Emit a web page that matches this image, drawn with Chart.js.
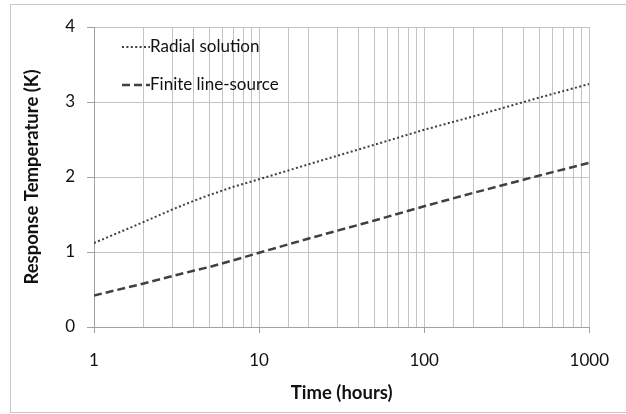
<!DOCTYPE html>
<html>
<head>
<meta charset="utf-8">
<script src="https://cdn.jsdelivr.net/npm/chart.js@4/dist/chart.umd.min.js"></script>
<style>
  html, body { margin: 0; padding: 0; background: #fff; }
  #wrap { width: 626px; height: 414px; }
</style>
</head>
<body>
<div id="wrap"><canvas id="c" width="626" height="414"></canvas></div>
<script>
// values
const times = [1, 2, 3, 4, 5, 7, 10, 20, 50, 100, 200, 500, 1000];
const radial = [1.12, 1.40, 1.57, 1.68, 1.76, 1.87, 1.97, 2.17, 2.43, 2.63, 2.81, 3.06, 3.24];
const lineSource = [0.42, 0.58, 0.68, 0.75, 0.80, 0.89, 0.99, 1.18, 1.42, 1.61, 1.79, 2.02, 2.19];
const xLabels = [1, 10, 100, 1000];
const seriesNames = ['Radial solution', 'Finite line-source'];

const FONT = 'Lato, "Open Sans", sans-serif';
const GRID = '#c4c4c4';
const LINE = '#404040';

function pts(ys) { return times.map((t, i) => ({ x: t, y: ys[i] })); }

// white frame with thin grey border like the spreadsheet chart box
const frame = {
  id: 'frame',
  beforeDraw(chart) {
    const c = chart.ctx;
    c.save();
    c.fillStyle = '#fff';
    c.fillRect(0, 0, chart.width, chart.height);
    c.strokeStyle = '#c8c8c8';
    c.lineWidth = 1;
    c.strokeRect(10.5, 4.5, 620, 408);
    c.restore();
  }
};

// legend drawn inside the plot, top-left
const innerLegend = {
  id: 'innerLegend',
  afterDatasetsDraw(chart) {
    const c = chart.ctx;
    const a = chart.chartArea;
    c.save();
    c.font = '17px ' + FONT;
    c.textBaseline = 'middle';
    chart.data.datasets.forEach((ds, i) => {
      const y = a.top + 20 + i * 38;
      const x0 = a.left + 28;
      c.strokeStyle = ds.borderColor;
      c.lineWidth = ds.borderWidth;
      c.setLineDash(ds.borderDash);
      c.beginPath();
      c.moveTo(x0, y);
      c.lineTo(x0 + 28, y);
      c.stroke();
      c.setLineDash([]);
      c.fillStyle = '#111';
      c.fillText(ds.label, x0 + 28, y);
    });
    c.restore();
  }
};

new Chart(document.getElementById('c'), {
  type: 'line',
  data: {
    datasets: [
      {
        label: seriesNames[0],
        data: pts(radial),
        borderColor: LINE,
        borderWidth: 2,
        borderDash: [2, 2.4],
        pointRadius: 0,
        tension: 0,
        fill: false
      },
      {
        label: seriesNames[1],
        data: pts(lineSource),
        borderColor: LINE,
        borderWidth: 2.5,
        borderDash: [8, 4],
        pointRadius: 0,
        tension: 0,
        fill: false
      }
    ]
  },
  plugins: [frame, innerLegend],
  options: {
    responsive: false,
    animation: false,
    layout: { padding: { left: 10, right: 30, top: 27, bottom: 0 } },
    plugins: { legend: { display: false }, tooltip: { enabled: false } },
    scales: {
      x: {
        type: 'logarithmic',
        min: 1,
        max: 1000,
        afterFit: s => { s.height = 87; },
        border: { color: '#a0a0a0' },
        grid: {
          color: GRID,
          tickLength: 6,
          tickColor: ctx => (ctx.tick && xLabels.includes(ctx.tick.value)) ? '#a0a0a0' : 'rgba(0,0,0,0)'
        },
        ticks: {
          autoSkip: false,
          maxRotation: 0,
          padding: 17,
          color: '#111',
          font: { family: FONT, size: 17 },
          callback: v => xLabels.includes(v) ? String(v) : ''
        },
        title: {
          display: true,
          text: 'Time (hours)',
          color: '#111',
          font: { family: FONT, size: 18.5, weight: 'bold' },
          padding: { top: 4, bottom: 10 }
        }
      },
      y: {
        min: 0,
        max: 4,
        afterFit: s => { s.width = 84; },
        border: { color: '#a0a0a0' },
        grid: { color: GRID, tickLength: 7, tickColor: '#a0a0a0' },
        ticks: {
          stepSize: 1,
          padding: 12,
          color: '#111',
          font: { family: FONT, size: 17 }
        },
        title: {
          display: true,
          text: 'Response Temperature (K)',
          color: '#111',
          font: { family: FONT, size: 18.5, weight: 'bold' },
          padding: { top: 11, bottom: 0 }
        }
      }
    }
  }
});
</script>
</body>
</html>
